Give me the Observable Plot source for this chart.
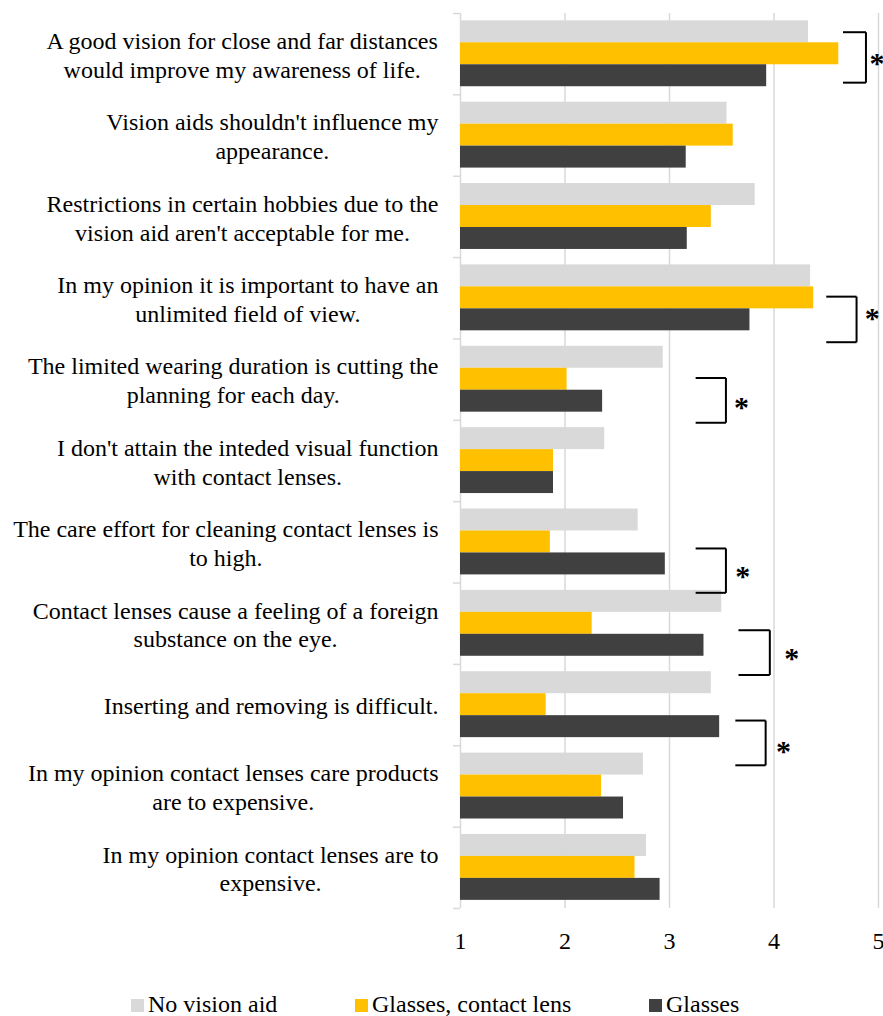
<!DOCTYPE html>
<html>
<head>
<meta charset="utf-8">
<script src="https://cdn.jsdelivr.net/npm/d3@7"></script>
<script src="https://cdn.jsdelivr.net/npm/@observablehq/plot@0.6"></script>
<style>
  html, body { margin: 0; padding: 0; background: #fff; }
  #chart svg { display: block; }
  #legend { position: relative; width: 883px; height: 56px; font-family: "Liberation Serif", serif; font-size: 24px; color: #000; }
  .item { position: absolute; top: 31.6px; height: 24px; line-height: 24px; display: flex; align-items: center; white-space: nowrap; }
  .sw { width: 13px; height: 13px; margin-top: 3px; margin-right: 4px; flex: none; }
</style>
</head>
<body>
<div id="chart"></div>
<div id="legend"></div>
<script>
// ---- data ----
const categories = [
  "A good vision for close and far distances\nwould improve my awareness of life.",
  "Vision aids shouldn't influence my\nappearance.",
  "Restrictions in certain hobbies due to the\nvision aid aren't acceptable for me.",
  "In my opinion it is important to have an\nunlimited field of view.",
  "The limited wearing duration is cutting the\nplanning for each day.",
  "I don't attain the inteded visual function\nwith contact lenses.",
  "The care effort for cleaning contact lenses is\nto high.",
  "Contact lenses cause a feeling of a foreign\nsubstance on the eye.",
  "Inserting and removing is difficult.",
  "In my opinion contact lenses care products\nare to expensive.",
  "In my opinion contact lenses are to\nexpensive."
];
const series = ["No vision aid", "Glasses, contact lens", "Glasses"];
const noVisionAid     = [4.33, 3.55, 3.82, 4.35, 2.94, 2.38, 2.70, 3.50, 3.40, 2.75, 2.78];
const glassesContact  = [4.62, 3.61, 3.40, 4.38, 2.02, 1.89, 1.86, 2.26, 1.82, 2.35, 2.67];
const glassesOnly     = [3.93, 3.16, 3.17, 3.77, 2.36, 1.89, 2.96, 3.33, 3.48, 2.56, 2.91];
const xTicks = [1, 2, 3, 4, 5];

// significance brackets (category index, x extent in scale units, vertical extent as band offsets)
const sigCategory = [0, 3, 4, 6, 7, 8];
const sigX0       = [4.66, 4.50, 3.25, 3.25, 3.66, 3.63];
const sigX1       = [4.88, 4.79, 3.54, 3.54, 3.96, 3.92];
const sigTop      = [-0.27, -0.02, -0.02, 0.075, 0.08, 0.19];
const sigBottom   = [0.35, 0.54, 0.53, 0.62, 0.63, 0.74];
const sigStarX    = [4.985, 4.94, 3.69, 3.70, 4.17, 4.09];
const sigStarY    = [0.08, 0.21, 0.31, 0.38, 0.39, 0.53];
const sigLabel    = "*";

const colors = ["#d9d9d9", "#ffc000", "#404040"];

// ---- build tables ----
const valuesBySeries = [noVisionAid, glassesContact, glassesOnly];
const rows = categories.flatMap((c, i) => series.map((s, j) => ({cat: i, series: s, j, value: valuesBySeries[j][i]})));
const barH = 0.27, barStart = -0.41;

const segs = [];
const stars = [];
sigCategory.forEach((c, k) => {
  const t = c + sigTop[k], b = c + sigBottom[k];
  segs.push({x1: sigX0[k], y1: t, x2: sigX1[k], y2: t});
  segs.push({x1: sigX1[k], y1: t, x2: sigX1[k], y2: b});
  segs.push({x1: sigX1[k], y1: b, x2: sigX0[k], y2: b});
  stars.push({x: sigStarX[k], y: c + sigStarY[k]});
});

const boundaries = d3.range(categories.length + 1).map(i => i - 0.5);

// measure label widths for centered multi-line blocks right-aligned to the axis
const ctx = document.createElement("canvas").getContext("2d");
ctx.font = "24px 'Liberation Serif'";
const labelMarks = categories.map((c, i) => {
  const w = d3.max(c.split("\n"), l => ctx.measureText(l).width);
  return Plot.text([c], {
    frameAnchor: "left", y: () => i, text: d => d,
    textAnchor: "middle", dx: -(22 + w / 2),
    lineHeight: 1.2, fontSize: 24, fill: "#000"
  });
});

const chart = Plot.plot({
  width: 883,
  height: 960,
  marginLeft: 460,
  marginRight: 5,
  marginTop: 13,
  marginBottom: 52,
  style: {fontFamily: "'Liberation Serif', serif", fontSize: "24px", background: "#fff", overflow: "hidden"},
  x: {domain: [1, 5], axis: null},
  y: {domain: [-0.5, categories.length - 0.5], reverse: true, axis: null},
  color: {domain: series, range: colors},
  marks: [
    Plot.ruleX(xTicks, {stroke: "#d9d9d9", strokeWidth: 1.5}),
    Plot.axisY({ticks: boundaries, tickSize: 7, tickFormat: () => "", label: null, stroke: "#d9d9d9", strokeWidth: 1.5}),
    Plot.text(xTicks, {x: d => d, text: d => String(d), frameAnchor: "bottom", lineAnchor: "top", dy: 23, fontSize: 24, fill: "#000"}),
    Plot.rectX(rows, {
      x1: () => 1, x2: "value",
      y1: d => d.cat + barStart + d.j * barH,
      y2: d => d.cat + barStart + (d.j + 1) * barH,
      fill: "series"
    }),
    Plot.link(segs, {x1: "x1", y1: "y1", x2: "x2", y2: "y2", stroke: "#000", strokeWidth: 2}),
    Plot.text(stars, {x: "x", y: "y", text: () => sigLabel, fontSize: 30, fontWeight: "bold", dy: 3, fill: "#000"}),
    ...labelMarks
  ]
});
document.getElementById("chart").appendChild(chart);

// ---- legend ----
const legendLeft = [131, 355, 649];
const legend = document.getElementById("legend");
series.forEach((s, j) => {
  const it = document.createElement("div");
  it.className = "item";
  it.style.left = legendLeft[j] + "px";
  const sw = document.createElement("span");
  sw.className = "sw";
  sw.style.background = colors[j];
  const tx = document.createElement("span");
  tx.textContent = s;
  it.appendChild(sw); it.appendChild(tx);
  legend.appendChild(it);
});
</script>
</body>
</html>
